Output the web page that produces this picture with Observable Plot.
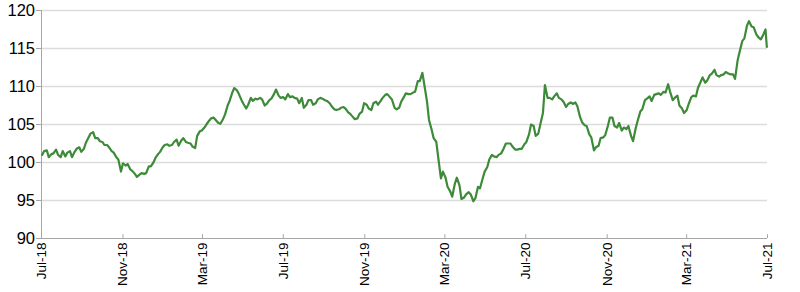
<!DOCTYPE html>
<html>
<head>
<meta charset="utf-8">
<script src="https://cdn.jsdelivr.net/npm/d3@7"></script>
<script src="https://cdn.jsdelivr.net/npm/@observablehq/plot@0.6"></script>
<style>
  html, body { margin: 0; padding: 0; background: #fff; }
  #chart { width: 800px; height: 292px; }
</style>
</head>
<body>
<div id="chart"></div>
<script>
// Readings twice a week (Mondays and Thursdays from 2 Jul 2018); the last value is the series end
const seriesStart = "2018-07-02";
const seriesEnd = "2021-06-30";
const values = [
  101.0, 101.5, 101.6, 100.7, 101.1, 101.2, 101.7, 101.0, 100.7, 101.5,
  100.8, 101.3, 101.5, 100.7, 101.4, 101.8, 102.0, 101.4, 101.8, 102.6,
  103.3, 103.8, 104.0, 103.2, 103.2, 102.8, 102.7, 102.3, 102.3, 102.0,
  101.5, 101.3, 100.7, 100.4, 98.8, 99.9, 99.6, 99.8, 99.1, 98.9,
  98.5, 98.1, 98.4, 98.6, 98.5, 98.6, 99.5, 99.5, 100.0, 100.6,
  101.1, 101.4, 102.0, 102.3, 102.4, 102.2, 102.3, 102.7, 103.0, 102.2,
  102.9, 103.2, 102.7, 102.6, 102.5, 102.1, 101.9, 103.5, 104.1, 104.2,
  104.6, 105.0, 105.5, 105.8, 105.9, 105.6, 105.2, 105.1, 105.7, 106.3,
  107.5, 108.1, 109.2, 109.8, 109.5, 109.0, 108.2, 107.7, 107.1, 107.6,
  108.5, 108.1, 108.4, 108.3, 108.5, 108.3, 107.5, 107.7, 108.2, 108.4,
  109.0, 109.6, 108.8, 108.5, 108.6, 108.3, 109.0, 108.6, 108.7, 108.5,
  108.4, 107.8, 108.5, 107.2, 107.6, 108.2, 108.2, 107.6, 107.8, 108.3,
  108.5, 108.4, 108.2, 108.1, 107.8, 107.4, 107.0, 106.9, 107.0, 107.2,
  107.3, 107.1, 106.6, 106.4, 106.0, 105.7, 105.8, 106.4, 106.7, 107.8,
  107.6, 107.1, 106.9, 107.8, 108.0, 107.6, 108.1, 108.5, 108.9, 109.0,
  108.6, 108.3, 107.2, 107.0, 107.2, 108.0, 108.6, 109.1, 109.0, 109.0,
  109.2, 109.3, 110.7, 110.7, 111.8, 110.2, 108.0, 105.6, 104.3, 103.2,
  102.7, 100.6, 97.9, 98.8, 98.0, 96.8, 96.2, 95.5, 97.2, 98.0,
  97.0, 95.2, 95.4, 95.8, 96.1, 95.8, 94.9, 95.3, 96.8, 96.6,
  97.9, 98.8, 99.4, 100.4, 101.0, 100.8, 100.7, 101.0, 101.2, 101.7,
  102.5, 102.5, 102.5, 102.1, 101.7, 101.7, 101.8, 101.8, 102.4, 102.7,
  103.7, 105.0, 104.8, 103.5, 103.8, 105.0, 106.5, 110.2, 108.5, 108.5,
  108.3, 108.7, 109.1, 108.5, 108.3, 108.0, 107.3, 107.7, 107.9, 107.7,
  107.9, 107.4, 106.0, 105.3, 104.9, 104.8, 103.7, 103.3, 101.6, 102.0,
  102.2, 103.2, 103.3, 103.6, 104.8, 105.9, 105.9, 104.8, 104.6, 105.2,
  104.2, 104.6, 104.4, 104.8, 103.5, 102.8, 104.5, 105.5, 106.7, 107.0,
  108.2, 108.4, 108.7, 108.1, 108.9, 109.0, 109.1, 108.9, 109.3, 109.2,
  110.3, 109.3, 108.2, 108.5, 108.8, 107.5, 107.1, 106.5, 106.9, 107.7,
  108.6, 108.8, 108.7, 109.8, 110.6, 111.2, 110.5, 110.8, 111.5, 111.7,
  112.2, 111.5, 111.3, 111.5, 111.6, 111.9, 111.7, 111.6, 111.6, 111.0,
  113.5, 114.6, 116.0, 116.3, 118.0, 118.6, 117.9, 117.8, 116.9, 116.5,
  116.2, 116.7, 117.5,
  115.2
];
const yTicks = [90, 95, 100, 105, 110, 115, 120];
const xTickLabels = ["Jul-18", "Nov-18", "Mar-19", "Jul-19", "Nov-19", "Mar-20", "Jul-20", "Nov-20", "Mar-21", "Jul-21"];

const parseIso = d3.utcParse("%Y-%m-%d");
const parseTick = d3.utcParse("%b-%y");
const start = parseIso(seriesStart), end = parseIso(seriesEnd);
const sampleDates = [...d3.utcMonday.range(start, end), ...d3.utcThursday.range(start, end)]
  .sort((a, b) => a - b);
const dates = [...sampleDates, end];
const data = values.map((v, i) => ({date: dates[i], value: v}));
const xTicks = xTickLabels.map(parseTick);
const labelOf = new Map(xTicks.map((d, i) => [+d, xTickLabels[i]]));
const yMin = yTicks[0];

const chart = Plot.plot({
  width: 800,
  height: 292,
  marginLeft: 41,
  marginRight: 33,
  marginTop: 10,
  marginBottom: 54,
  style: {fontFamily: "'Liberation Sans', Arial, sans-serif", color: "#000", background: "#fff"},
  x: {type: "utc", domain: [xTicks[0], xTicks[xTicks.length - 1]], label: null},
  y: {domain: [yTicks[0], yTicks[yTicks.length - 1]], label: null},
  marks: [
    Plot.gridY(yTicks.slice(1), {stroke: "#dcdcdc", strokeOpacity: 1, strokeWidth: 1.5}),
    Plot.ruleX([xTicks[0]], {stroke: "#a6a6a6", strokeWidth: 1}),
    Plot.ruleY([yMin], {stroke: "#a6a6a6", strokeWidth: 1}),
    Plot.axisY({ticks: yTicks, tickSize: 5, tickPadding: 1.5, stroke: "#a6a6a6", fontSize: 16.5, fill: "#000", label: null}),
    Plot.axisX({ticks: xTicks, tickFormat: d => labelOf.get(+d), tickRotate: -90, tickSize: 0, tickPadding: 4, fontSize: 13.5, fill: "#000", label: null}),
    Plot.ruleX(xTicks, {y1: yMin, y2: yMin + 0.5, stroke: "#a6a6a6", strokeWidth: 1}),
    Plot.line(data, {x: "date", y: "value", stroke: "#3d8a38", strokeWidth: 2.2})
  ]
});
document.getElementById("chart").append(chart);
</script>
</body>
</html>
